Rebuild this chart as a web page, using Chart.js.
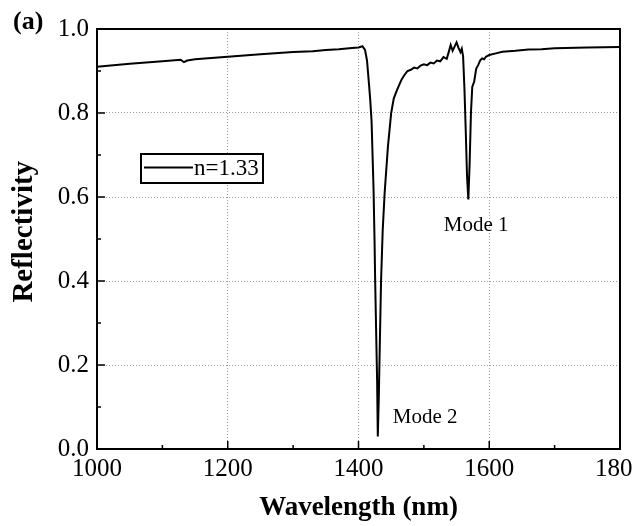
<!DOCTYPE html>
<html>
<head>
<meta charset="utf-8">
<script src="https://cdn.jsdelivr.net/npm/chart.js@4/dist/chart.umd.min.js"></script>
<style>
  html, body { margin: 0; padding: 0; background: #fff; }
</style>
</head>
<body>
<canvas id="chart" width="633" height="526"></canvas>
<script>
// wavelength (nm) and reflectivity
var wavelength = [1000, 1050, 1100, 1128, 1133, 1138, 1150, 1200, 1250, 1300, 1330, 1350, 1370, 1390, 1400, 1406,
  1410, 1413, 1416, 1418, 1420, 1423, 1424.5, 1425.5, 1427, 1428.5, 1429.5, 1431, 1432, 1434.5, 1437, 1440, 1445,
  1450, 1454, 1459, 1466, 1470, 1475, 1480, 1485, 1490, 1495, 1500, 1505, 1510, 1515, 1520, 1525, 1530, 1535,
  1538, 1541, 1544, 1547, 1550, 1553, 1556, 1558, 1560, 1562, 1564, 1566, 1568, 1570, 1572, 1574, 1577, 1580,
  1583, 1586, 1589, 1592, 1595, 1600, 1610, 1620, 1640, 1660, 1680, 1700, 1750, 1800];
var reflectivity = [0.910, 0.917, 0.923, 0.927, 0.921, 0.925, 0.928, 0.934, 0.940, 0.945, 0.947, 0.950, 0.952, 0.955, 0.956, 0.959,
  0.950, 0.925, 0.87, 0.83, 0.78, 0.62, 0.50, 0.40, 0.28, 0.16, 0.03, 0.12, 0.20, 0.40, 0.52, 0.61, 0.72,
  0.80, 0.835, 0.855, 0.880, 0.890, 0.900, 0.903, 0.908, 0.906, 0.913, 0.916, 0.914, 0.920, 0.918, 0.925, 0.923, 0.933, 0.929,
  0.945, 0.962, 0.948, 0.958, 0.968, 0.955, 0.945, 0.953, 0.935, 0.86, 0.76, 0.65, 0.594, 0.68, 0.80, 0.862, 0.875, 0.905,
  0.914, 0.925, 0.930, 0.928, 0.934, 0.938, 0.942, 0.946, 0.948, 0.951, 0.952, 0.954, 0.956, 0.957];
var seriesLabel = 'n=1.33';
var xMajor = [1000, 1200, 1400, 1600, 1800];
var xMinor = [1100, 1300, 1500, 1700];
var yMajor = [0, 0.2, 0.4, 0.6, 0.8, 1.0];
var yMinor = [0.1, 0.3, 0.5, 0.7, 0.9];
var notes = [{text: 'Mode 1', x: 1580, y: 0.533}, {text: 'Mode 2', x: 1502, y: 0.074}];

var serif = "'Liberation Serif', 'Times New Roman', serif";

var points = wavelength.map(function (w, i) { return {x: w, y: reflectivity[i]}; });

var extras = {
  id: 'extras',
  afterDraw: function (chart) {
    var ctx = chart.ctx, a = chart.chartArea;
    var xs = chart.scales.x, ys = chart.scales.y;
    ctx.save();
    ctx.strokeStyle = '#000';
    // inward ticks
    ctx.lineWidth = 1.5;
    ctx.beginPath();
    xMajor.forEach(function (v) { var p = xs.getPixelForValue(v); ctx.moveTo(p, a.bottom); ctx.lineTo(p, a.bottom - 8); });
    xMinor.forEach(function (v) { var p = xs.getPixelForValue(v); ctx.moveTo(p, a.bottom); ctx.lineTo(p, a.bottom - 4); });
    yMajor.forEach(function (v) { var p = ys.getPixelForValue(v); ctx.moveTo(a.left, p); ctx.lineTo(a.left + 8, p); });
    yMinor.forEach(function (v) { var p = ys.getPixelForValue(v); ctx.moveTo(a.left, p); ctx.lineTo(a.left + 4, p); });
    ctx.stroke();
    // frame
    ctx.lineWidth = 2;
    ctx.strokeRect(a.left, a.top, a.right - a.left, a.bottom - a.top);
    // legend box
    ctx.fillStyle = '#fff';
    ctx.fillRect(141, 154, 122, 29);
    ctx.strokeRect(141, 154, 122, 29);
    ctx.beginPath();
    ctx.moveTo(144, 167.5); ctx.lineTo(193, 167.5);
    ctx.stroke();
    ctx.fillStyle = '#000';
    ctx.font = '23px ' + serif;
    ctx.textAlign = 'left';
    ctx.textBaseline = 'middle';
    ctx.fillText(seriesLabel, 194, 169);
    // mode labels
    ctx.font = '21px ' + serif;
    ctx.textAlign = 'center';
    notes.forEach(function (n) {
      ctx.fillText(n.text, xs.getPixelForValue(n.x), ys.getPixelForValue(n.y));
    });
    // panel tag
    ctx.font = 'bold 26px ' + serif;
    ctx.textAlign = 'left';
    ctx.textBaseline = 'alphabetic';
    ctx.fillText('(a)', 13, 29);
    ctx.restore();
  }
};

var ctx = document.getElementById('chart').getContext('2d');
var myChart = new Chart(ctx, {
  type: 'line',
  data: {
    datasets: [{
      label: seriesLabel,
      data: points,
      borderColor: '#000',
      borderWidth: 2,
      pointRadius: 0,
      tension: 0,
      fill: false
    }]
  },
  options: {
    responsive: false,
    animation: false,
    devicePixelRatio: 1,
    layout: {padding: {top: 29, right: 13, left: 0, bottom: 0}},
    plugins: {legend: {display: false}, tooltip: {enabled: false}},
    scales: {
      x: {
        type: 'linear', min: 1000, max: 1800,
        afterBuildTicks: function (s) { s.ticks = xMajor.map(function (v) { return {value: v}; }); },
        ticks: {color: '#000', font: {family: serif, size: 25}, padding: 5, maxRotation: 0,
          callback: function (v) { return String(v); }},
        grid: {color: '#999', lineWidth: 1, drawTicks: false},
        border: {display: false, dash: [1, 2]},
        title: {display: true, text: 'Wavelength (nm)', color: '#000',
          font: {family: serif, size: 27, weight: 'bold'}, padding: {top: 0, bottom: 2}},
        afterFit: function (s) { s.height = 77; s.paddingLeft = 0; s.paddingRight = 0; }
      },
      y: {
        type: 'linear', min: 0, max: 1,
        afterBuildTicks: function (s) { s.ticks = yMajor.map(function (v) { return {value: v}; }); },
        ticks: {color: '#000', font: {family: serif, size: 25}, padding: 8,
          callback: function (v) { return v.toFixed(1); }},
        grid: {color: '#999', lineWidth: 1, drawTicks: false},
        border: {display: false, dash: [1, 2]},
        title: {display: true, text: '\u00a0\u00a0Reflectivity', color: '#000',
          font: {family: serif, size: 29, weight: 'bold'}, padding: {top: 7, bottom: 0}},
        afterFit: function (s) { s.width = 97; }
      }
    }
  },
  plugins: [extras]
});
</script>
</body>
</html>
